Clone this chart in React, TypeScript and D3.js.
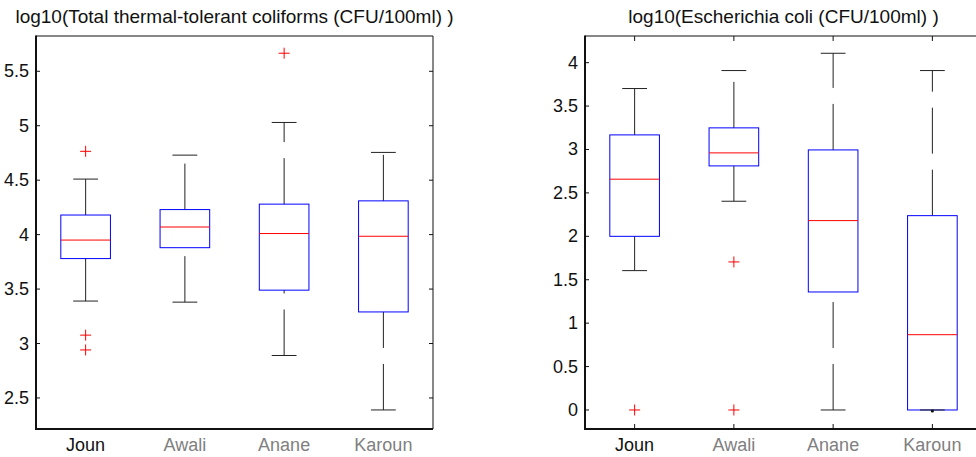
import React from 'react';
import * as d3 from 'd3';

// sampling sites
const categories = ['Joun', 'Awali', 'Anane', 'Karoun'];

// log10 total thermal-tolerant coliforms
const ttcLow = [3.39, 3.38, 2.89, 2.39];
const ttcQ1 = [3.78, 3.88, 3.49, 3.29];
const ttcMedian = [3.95, 4.07, 4.01, 3.985];
const ttcQ3 = [4.18, 4.23, 4.28, 4.31];
const ttcHigh = [4.51, 4.73, 5.03, 4.755];
const ttcOutliers = [[4.765, 3.077, 2.941], [], [5.666], []];
const ttcTicks = [2.5, 3, 3.5, 4, 4.5, 5, 5.5];

// log10 E. coli
const ecLow = [1.605, 2.404, 0, 0];
const ecQ1 = [2.0, 2.811, 1.359, 0];
const ecMedian = [2.658, 2.961, 2.181, 0.867];
const ecQ3 = [3.168, 3.249, 2.995, 2.238];
const ecHigh = [3.702, 3.909, 4.108, 3.909];
const ecOutliers = [[0], [1.705, 0], [], []];
const ecTicks = [0, 0.5, 1, 1.5, 2, 2.5, 3, 3.5, 4];

const FONT = '"Liberation Sans", Arial, Helvetica, sans-serif';

type PanelProps = {
  title: string;
  left: number;
  yDomain: [number, number];
  ticks: number[];
  low: number[];
  q1: number[];
  med: number[];
  q3: number[];
  high: number[];
  outliers: number[][];
  xTicks: boolean;
};

const Panel = (p: PanelProps) => {
  const top = 36;
  const bottom = 429;
  const width = 397;
  const right = p.left + width;

  const x = d3.scaleLinear().domain([0.5, 4.5]).range([p.left, right]);
  const y = d3.scaleLinear().domain(p.yDomain).range([bottom, top]);

  const boxHalf = x(1.25) - x(1);
  const capHalf = x(1.125) - x(1);

  return (
    <g>
      <text
        x={(p.left + right) / 2}
        y={23}
        textAnchor="middle"
        fontSize={19}
        fontFamily={FONT}
        fill="#111"
      >
        {p.title}
      </text>

      {/* frame */}
      <line x1={p.left} x2={right} y1={top} y2={top} stroke="#111" strokeWidth={1} />
      <line x1={right} x2={right} y1={top} y2={bottom} stroke="#111" strokeWidth={1} />
      <line x1={p.left} x2={p.left} y1={top - 0.5} y2={bottom + 1} stroke="#111" strokeWidth={2} />
      <line x1={p.left - 1} x2={right} y1={bottom} y2={bottom} stroke="#111" strokeWidth={2} />

      {/* y ticks */}
      {p.ticks.map(t => (
        <g key={t}>
          <line x1={p.left} x2={p.left + 4} y1={y(t)} y2={y(t)} stroke="#111" />
          <line x1={right - 4} x2={right} y1={y(t)} y2={y(t)} stroke="#111" />
          <text
            x={p.left - 7}
            y={y(t)}
            textAnchor="end"
            dominantBaseline="central"
            fontSize={18}
            fontFamily={FONT}
            fill="#111"
          >
            {String(t)}
          </text>
        </g>
      ))}

      {/* x labels */}
      {categories.map((c, i) => (
        <g key={c}>
          {p.xTicks && (
            <>
              <line x1={x(i + 1)} x2={x(i + 1)} y1={bottom} y2={bottom - 5} stroke="#111" />
              <line x1={x(i + 1)} x2={x(i + 1)} y1={top} y2={top + 5} stroke="#111" />
            </>
          )}
          <text
            x={x(i + 1)}
            y={451}
            textAnchor="middle"
            fontSize={18}
            fontFamily={FONT}
            fill={i === 0 ? '#111' : '#808080'}
          >
            {c}
          </text>
        </g>
      ))}

      {/* boxes */}
      {categories.map((c, i) => {
        const cx = x(i + 1);
        return (
          <g key={'b' + c}>
            {/* whiskers drawn upward from the lower value */}
            <line x1={cx} x2={cx} y1={y(p.low[i])} y2={y(p.q1[i])}
              stroke="#222" strokeDasharray="46 16" />
            <line x1={cx} x2={cx} y1={y(p.q3[i])} y2={y(p.high[i])}
              stroke="#222" strokeDasharray="46 16" />
            <rect
              x={cx - boxHalf}
              y={y(p.q3[i])}
              width={boxHalf * 2}
              height={y(p.q1[i]) - y(p.q3[i])}
              fill="none"
              stroke="#0000ff"
            />
            <line x1={cx - capHalf} x2={cx + capHalf} y1={y(p.low[i])} y2={y(p.low[i])} stroke="#222" />
            <line x1={cx - capHalf} x2={cx + capHalf} y1={y(p.high[i])} y2={y(p.high[i])} stroke="#222" />
            <line x1={cx - boxHalf} x2={cx + boxHalf} y1={y(p.med[i])} y2={y(p.med[i])} stroke="#ff0000" />
            {p.low[i] === p.q1[i] && <circle cx={cx} cy={y(p.low[i]) + 1} r={1.6} fill="#111" />}
            {p.outliers[i].map((o, j) => (
              <g key={j} stroke="#ff0000">
                <line x1={cx - 5.5} x2={cx + 5.5} y1={y(o)} y2={y(o)} />
                <line x1={cx} x2={cx} y1={y(o) - 5.5} y2={y(o) + 5.5} />
              </g>
            ))}
          </g>
        );
      })}
    </g>
  );
};

export default function App() {
  return (
    <svg
      width={976}
      height={457}
      style={{ position: 'absolute', left: 0, top: 0, background: '#fff' }}
    >
      <Panel
        title="log10(Total thermal-tolerant coliforms (CFU/100ml) )"
        left={36}
        yDomain={[2.215, 5.824]}
        ticks={ttcTicks}
        low={ttcLow}
        q1={ttcQ1}
        med={ttcMedian}
        q3={ttcQ3}
        high={ttcHigh}
        outliers={ttcOutliers}
        xTicks={false}
      />
      <Panel
        title="log10(Escherichia coli (CFU/100ml) )"
        left={585}
        yDomain={[-0.219, 4.307]}
        ticks={ecTicks}
        low={ecLow}
        q1={ecQ1}
        med={ecMedian}
        q3={ecQ3}
        high={ecHigh}
        outliers={ecOutliers}
        xTicks={true}
      />
    </svg>
  );
}
